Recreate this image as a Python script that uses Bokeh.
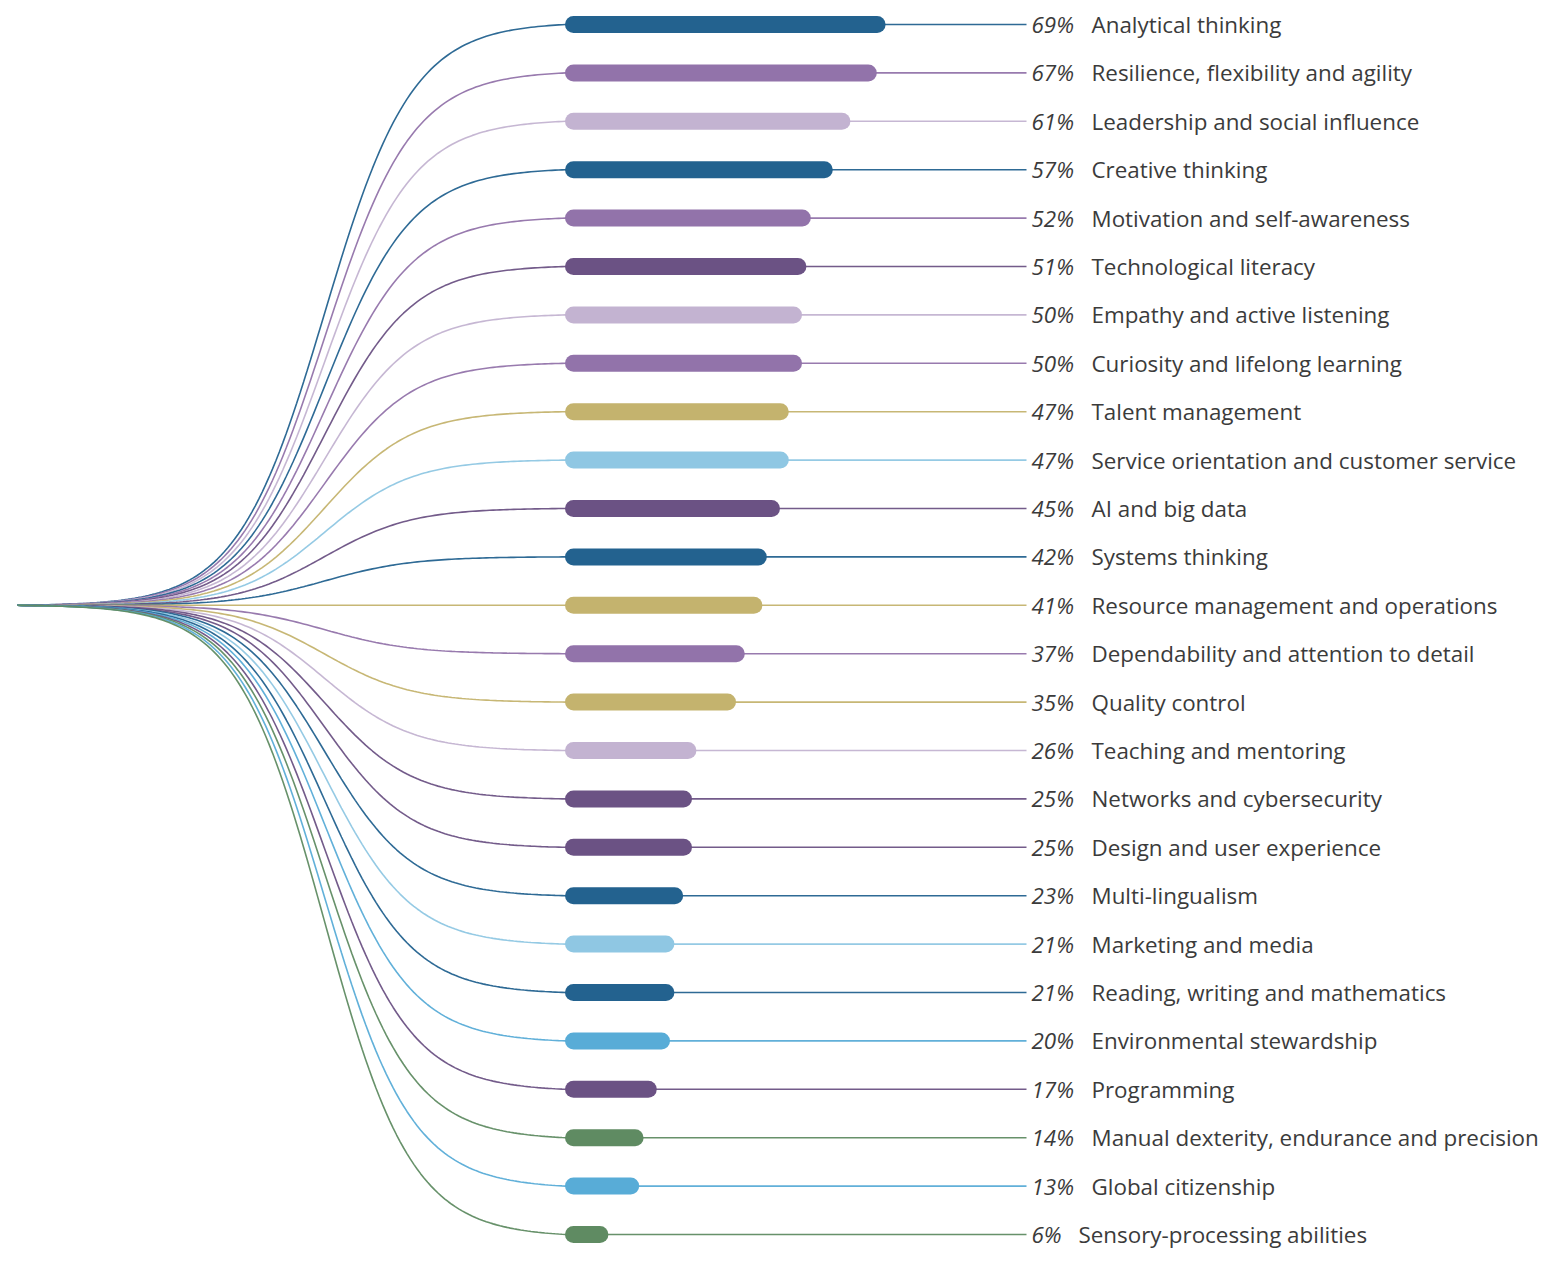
import numpy as np
from bokeh.plotting import figure
from bokeh.models import ColumnDataSource, Range1d
from bokeh.core.properties import value
from bokeh.embed import file_html
from bokeh.resources import INLINE

# ---- data ----
skills = [
    "Analytical thinking", "Resilience, flexibility and agility", "Leadership and social influence",
    "Creative thinking", "Motivation and self-awareness", "Technological literacy",
    "Empathy and active listening", "Curiosity and lifelong learning", "Talent management",
    "Service orientation and customer service", "AI and big data", "Systems thinking",
    "Resource management and operations", "Dependability and attention to detail", "Quality control",
    "Teaching and mentoring", "Networks and cybersecurity", "Design and user experience",
    "Multi-lingualism", "Marketing and media", "Reading, writing and mathematics",
    "Environmental stewardship", "Programming", "Manual dexterity, endurance and precision",
    "Global citizenship", "Sensory-processing abilities",
]
shares = [69, 67, 61, 57, 52, 51, 50, 50, 47, 47, 45, 42, 41, 37, 35, 26, 25, 25, 23, 21, 21, 20, 17, 14, 13, 6]
groups = [
    "blue", "purple", "lilac", "blue", "purple", "plum", "lilac", "purple", "gold", "sky",
    "plum", "blue", "gold", "purple", "gold", "lilac", "plum", "plum", "blue", "sky",
    "blue", "cyan", "plum", "green", "cyan", "green",
]
palette = {
    "blue": "#23628f", "purple": "#9273aa", "lilac": "#c3b3d1", "plum": "#6b5284",
    "gold": "#c4b36e", "sky": "#8fc7e3", "cyan": "#58acd7", "green": "#5f8b62",
}

# ---- layout constants ----
W, H = 1540, 1253
PX_PER_PCT = 4.4
BAR_X0_PX = 573            # plot px where bar value 0 sits (centre of the round cap)
ROW_PX = 48.4
ROW0_PX = 24
XMIN = -BAR_X0_PX / PX_PER_PCT
XMAX = (W - BAR_X0_PX) / PX_PER_PCT
YTOP = -ROW0_PX / ROW_PX
YBOT = (H - ROW0_PX) / ROW_PX

def px_to_x(px):
    return (px - BAR_X0_PX) / PX_PER_PCT

ORIGIN_X = px_to_x(17)
CURVE_END_X = px_to_x(565)
THIN_END_X = px_to_x(1026)
PCT_X = px_to_x(1031)
n = len(skills)
origin_row = skills.index("Resource management and operations")

rows = list(range(n))
colors = [palette[g] for g in groups]

# sigmoid connectors
t = np.linspace(0, 1, 160)
k, tc = 12.5, 0.56
lg = 1 / (1 + np.exp(-k * (t - tc)))
s = (lg - lg[0]) / (lg[-1] - lg[0])
xs, ys = [], []
for i in rows:
    cx = list(ORIGIN_X + t * (CURVE_END_X - ORIGIN_X)) + [THIN_END_X]
    cy = list(origin_row + (i - origin_row) * s) + [i]
    xs.append(cx)
    ys.append(cy)

p = figure(width=W, height=H, output_backend="svg", toolbar_location=None,
           x_range=Range1d(XMIN, XMAX), y_range=Range1d(YBOT, YTOP),
           min_border=0, outline_line_color=None, background_fill_color="white",
           border_fill_color="white")
p.axis.visible = False
p.grid.visible = False

p.multi_line(xs=xs, ys=ys, line_color=colors, line_width=1.6, line_alpha=0.95)

src = ColumnDataSource(dict(
    y=rows, v=shares, x0=[0] * n, c=colors,
    pct=[f"{v}%" for v in shares], label=skills,
    pct_x=[PCT_X] * n,
    lab_x=[px_to_x(1091) if v >= 10 else px_to_x(1078) for v in shares],
))
p.segment(x0="x0", y0="y", x1="v", y1="y", source=src, line_color="c",
          line_width=17, line_cap="round")

p.text(x="pct_x", y="y", text="pct", source=src, text_font=value("Open Sans"),
       text_font_style="italic", text_font_size="22.4px", text_color="#3b3b3b",
       text_baseline="middle", text_align="left")
p.text(x="lab_x", y="y", text="label", source=src, text_font=value("Open Sans"),
       text_font_size="22.4px", text_color="#3b3b3b",
       text_baseline="middle", text_align="left")

open("out.html", "w").write(file_html(p, INLINE))
